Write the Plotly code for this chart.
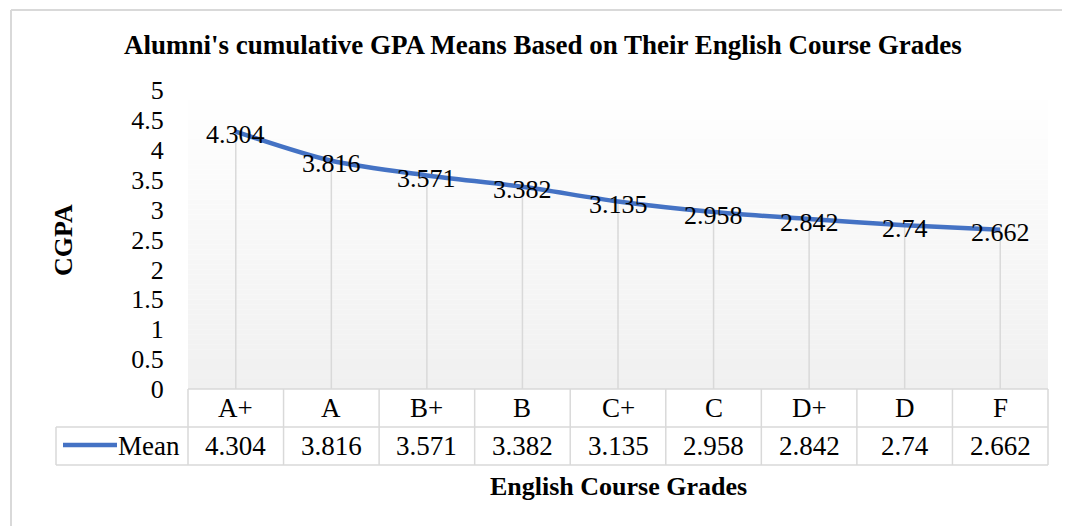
import plotly.graph_objects as go

# ---- data ----
grades = ["A+", "A", "B+", "B", "C+", "C", "D+", "D", "F"]
mean_cgpa = [4.304, 3.816, 3.571, 3.382, 3.135, 2.958, 2.842, 2.74, 2.662]
series_name = "Mean"
y_ticks = [0, 0.5, 1, 1.5, 2, 2.5, 3, 3.5, 4, 4.5, 5]
title_text = "Alumni's cumulative GPA Means Based on Their English Course Grades"
x_title = "English Course Grades"
y_title = "CGPA"

# ---- layout geometry (page pixels; page body has 8px margin) ----
OFF = 8
W, H = 1070 - OFF, 526 - OFF
L, R, T, B = 188, 1048, 90, 389
ROW1, ROW2 = 427, 465
LEG_LEFT = 56
FONT = "Liberation Serif, Times New Roman, serif"
BLUE = "#4472C4"
GRID = "#d9d9d9"


def px(p):
    return (p - L) / (R - L)


def py(p):
    return (B - p) / (B - T)


fig = go.Figure()

# drop lines
for g, v in zip(grades, mean_cgpa):
    fig.add_trace(go.Scatter(x=[g, g], y=[0, v], mode="lines",
                             line=dict(color=GRID, width=1.5),
                             hoverinfo="skip", showlegend=False))

# main line
fig.add_trace(go.Scatter(
    x=grades, y=mean_cgpa, mode="lines", name=series_name,
    line=dict(color=BLUE, width=4.5, shape="spline", smoothing=0.8),
    showlegend=False,
))

shapes = []
# gradient background of plot area
n = 60
for i in range(n):
    c = int(round(255 - 15 * (i + 0.5) / n))
    shapes.append(dict(type="rect", xref="x domain", yref="y domain",
                       x0=0, x1=1, y0=1 - (i + 1) / n, y1=1 - i / n,
                       fillcolor=f"rgb({c},{c},{c})", line=dict(width=0),
                       layer="below"))

# outer chart border (left and top visible)
shapes.append(dict(type="line", xref="paper", yref="paper",
                   x0=px(11), x1=px(1080), y0=py(10), y1=py(10),
                   line=dict(color=GRID, width=2)))
shapes.append(dict(type="line", xref="paper", yref="paper",
                   x0=px(11), x1=px(11), y0=py(10), y1=py(540),
                   line=dict(color=GRID, width=2)))

# data table grid
tl = dict(color=GRID, width=1.5)
shapes.append(dict(type="line", xref="paper", yref="paper", x0=0, x1=1,
                   y0=py(B), y1=py(B), line=tl))
for yy in (ROW1, ROW2):
    shapes.append(dict(type="line", xref="paper", yref="paper",
                       x0=px(LEG_LEFT), x1=1, y0=py(yy), y1=py(yy), line=tl))
shapes.append(dict(type="line", xref="paper", yref="paper",
                   x0=px(LEG_LEFT), x1=px(LEG_LEFT), y0=py(ROW1), y1=py(ROW2), line=tl))
for i in range(len(grades) + 1):
    xx = i / len(grades)
    shapes.append(dict(type="line", xref="paper", yref="paper",
                       x0=xx, x1=xx, y0=py(B), y1=py(ROW2), line=tl))

# legend key line in table
shapes.append(dict(type="line", xref="paper", yref="paper",
                   x0=px(63), x1=px(117), y0=py(445), y1=py(445),
                   line=dict(color=BLUE, width=4.5)))

annotations = []
# data labels (centered on points, slightly below like Excel)
for g, v in zip(grades, mean_cgpa):
    annotations.append(dict(x=g, xref="x", y=v, yref="y", text=f"{v:g}",
                            showarrow=False, xanchor="center", yanchor="middle",
                            yshift=-3, font=dict(family=FONT, size=26, color="black")))
for g, v in zip(grades, mean_cgpa):
    annotations.append(dict(x=g, xref="x", y=py((B + ROW1) / 2), yref="paper",
                            text=g, showarrow=False, xanchor="center", yanchor="middle",
                            font=dict(family=FONT, size=27, color="black")))
    annotations.append(dict(x=g, xref="x", y=py((ROW1 + ROW2) / 2), yref="paper",
                            text=f"{v:g}", showarrow=False, xanchor="center", yanchor="middle",
                            font=dict(family=FONT, size=27, color="black")))
annotations.append(dict(x=px(182), xref="paper", y=py((ROW1 + ROW2) / 2), yref="paper",
                        text=series_name, showarrow=False, xanchor="right", yanchor="middle",
                        font=dict(family=FONT, size=27, color="black")))
annotations.append(dict(x=0.5, xref="paper", y=py(486), yref="paper",
                        text=f"<b>{x_title}</b>", showarrow=False,
                        xanchor="center", yanchor="middle",
                        font=dict(family=FONT, size=26, color="black")))
annotations.append(dict(x=px(63), xref="paper", y=py(240), yref="paper",
                        text=f"<b>{y_title}</b>", showarrow=False, textangle=-90,
                        xanchor="center", yanchor="middle",
                        font=dict(family=FONT, size=26, color="black")))
annotations.append(dict(x=px(543), xref="paper", y=py(45), yref="paper",
                        text=f"<b>{title_text}</b>", showarrow=False,
                        xanchor="center", yanchor="middle",
                        font=dict(family=FONT, size=27, color="black")))

fig.update_layout(
    width=W, height=H,
    margin=dict(l=L - OFF, r=(W + OFF) - R, t=T - OFF, b=(H + OFF) - B, pad=0),
    paper_bgcolor="white", plot_bgcolor="rgba(0,0,0,0)",
    shapes=shapes, annotations=annotations,
    xaxis=dict(type="category", categoryorder="array", categoryarray=grades,
               range=[-0.5, len(grades) - 0.5], showticklabels=False,
               showgrid=False, zeroline=False, showline=False, ticks=""),
    yaxis=dict(range=[0, 5], tickvals=y_ticks, ticktext=[f"{t:g}" for t in y_ticks],
               showgrid=False, zeroline=False, showline=False,
               ticks="outside", ticklen=18, tickcolor="rgba(0,0,0,0)",
               tickfont=dict(family=FONT, size=26, color="black")),
)

fig.write_html("out.html")
